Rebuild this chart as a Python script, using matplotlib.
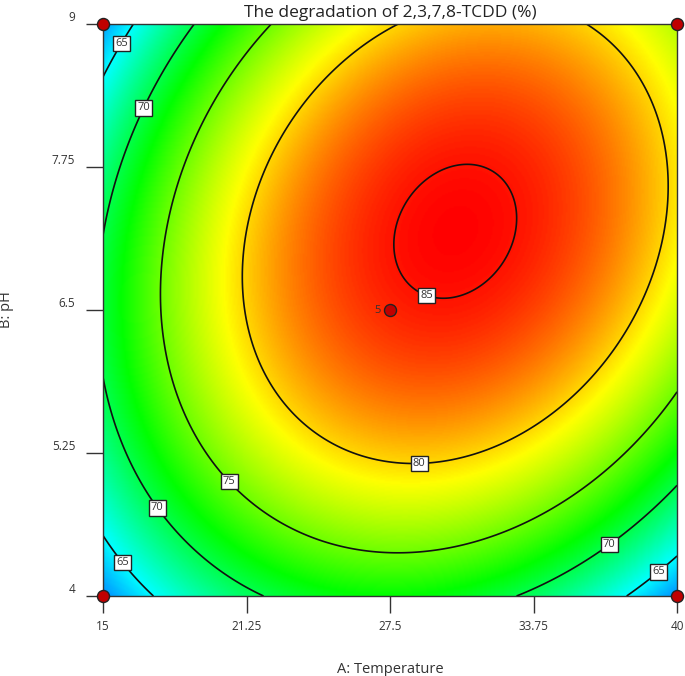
import numpy as np
import matplotlib
matplotlib.use("Agg")
import matplotlib.pyplot as plt
from matplotlib.colors import LinearSegmentedColormap, Normalize

plt.rcParams['font.family'] = ['Open Sans', 'DejaVu Sans']

# quadratic model in coded units (A: temperature, B: pH)
b0 = 84.5
b_A = 3.67
b_B = 3.9
b_AB = 3.67
b_AA = -10.3
b_BB = -8.6

temp_range = [15, 40]
ph_range = [4, 9]
x_ticks = [15, 21.25, 27.5, 33.75, 40]
y_ticks = [4, 5.25, 6.5, 7.75, 9]
levels = [65, 70, 75, 80, 85]

# colour stops (response value -> colour)
color_vals = [57.5, 65.0, 72.0, 79.0, 85.5]
color_list = ['#0000ff', '#00ffff', '#00ff00', '#ffff00', '#ff0000']

# design points
pts_temp = [15, 40, 15, 40, 27.5]
pts_ph = [4, 4, 9, 9, 6.5]

# contour label positions (temperature, pH)
label_pos = [(15.87, 8.82), (16.74, 8.27), (16.09, 4.33), (17.57, 4.80),
             (20.66, 5.03), (28.76, 5.22), (29.11, 6.63), (36.86, 4.50),
             (38.95, 4.27)]

T = np.linspace(temp_range[0], temp_range[1], 400)
P = np.linspace(ph_range[0], ph_range[1], 400)
TT, PP = np.meshgrid(T, P)
a = (TT - 27.5) / 12.5
b = (PP - 6.5) / 2.5
Y = b0 + b_A * a + b_B * b + b_AB * a * b + b_AA * a ** 2 + b_BB * b ** 2

lo, hi = color_vals[0], color_vals[-1]
stops = [((v - lo) / (hi - lo), c) for v, c in zip(color_vals, color_list)]
cmap = LinearSegmentedColormap.from_list('de', stops)

fig = plt.figure(figsize=(6.85, 6.76), dpi=100)
ax = fig.add_axes([0.1504, 0.1183, 0.838, 0.8462])

ax.imshow(Y, origin='lower', extent=[15, 40, 4, 9], aspect='auto',
          cmap=cmap, norm=Normalize(lo, hi), interpolation='bilinear')
cs = ax.contour(TT, PP, Y, levels=levels, colors='#111111', linewidths=1.2)
labels = ax.clabel(cs, inline=True, fmt='%d', fontsize=8,
                   manual=label_pos, inline_spacing=1)
for t in labels:
    t.set_rotation(0)
    t.set_bbox(dict(boxstyle='square,pad=0.2', fc='white', ec='#222222', lw=1))
    t.set_color('#333333')

ax.scatter(pts_temp, pts_ph, s=75, c='#c00000', edgecolors='#222222',
           linewidths=1, zorder=5, clip_on=False)
ax.text(27.1, 6.5, '5', ha='right', va='center', fontsize=8, color='#333333')

ax.set_xlim(15, 40)
ax.set_ylim(4, 9)
ax.set_xticks(x_ticks)
ax.set_xticklabels(['15', '21.25', '27.5', '33.75', '40'])
ax.set_yticks(y_ticks)
ax.set_yticklabels(['4', '5.25', '6.5', '7.75', '9'], va='bottom')
ax.tick_params(axis='both', length=12, width=1, color='#333333',
               labelsize=8.5, labelcolor='#333333')
ax.tick_params(axis='x', pad=5)
ax.tick_params(axis='y', pad=8)
for s in ax.spines.values():
    s.set_color('#333333')
    s.set_linewidth(1)

ax.set_xlabel('A: Temperature', fontsize=10.5, color='#333333')
ax.xaxis.set_label_coords(0.5, -0.115)
ax.set_ylabel('B: pH', fontsize=10.5, color='#333333')
ax.yaxis.set_label_coords(-0.155, 0.5)
ax.set_title('The degradation of 2,3,7,8-TCDD (%)', fontsize=12.5,
             color='#222222', pad=5)

fig.savefig('out.png', dpi=100)
